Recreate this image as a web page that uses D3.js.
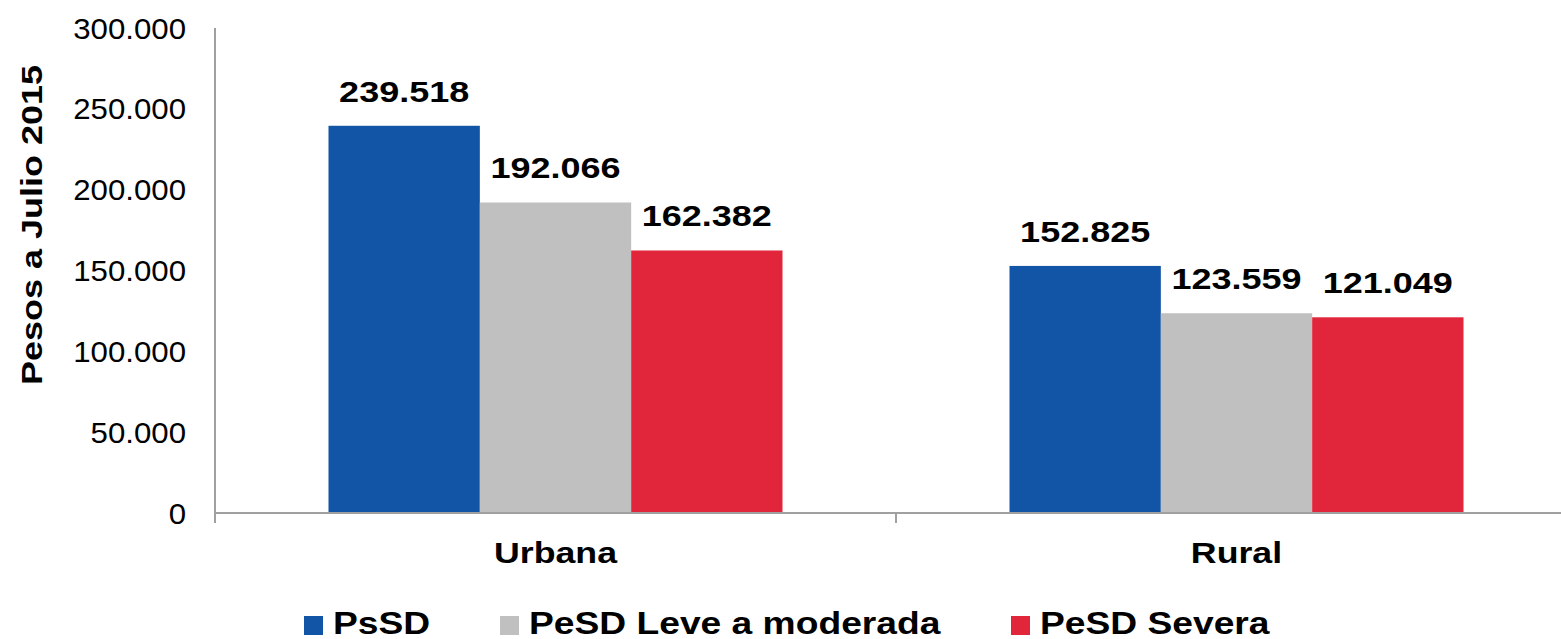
<!DOCTYPE html>
<html>
<head>
<meta charset="utf-8">
<script src="https://cdn.jsdelivr.net/npm/d3@7"></script>
<style>
  html, body { margin: 0; padding: 0; background: #fff; }
  svg { display: block; font-family: "Liberation Sans", Arial, sans-serif; }
</style>
</head>
<body>
<svg id="chart" width="1561" height="639"></svg>
<script>
// Categories, series and values
const categories = ["Urbana", "Rural"];
const series = ["PsSD", "PeSD Leve a moderada", "PeSD Severa"];
const valuesPsSD = [239518, 152825];
const valuesLeve = [192066, 123559];
const valuesSevera = [162382, 121049];
const seriesValues = [valuesPsSD, valuesLeve, valuesSevera];
const yTicks = [0, 50000, 100000, 150000, 200000, 250000, 300000];
const colors = ["#1254a5", "#c0c0c0", "#e1253a"];
const yTitle = "Pesos a Julio 2015";

// Spanish number formatting: thousands separated by "."
const locale = d3.formatLocale({ decimal: ",", thousands: ".", grouping: [3], currency: ["$", ""] });
const fmt = locale.format(",");

const svg = d3.select("#chart");

const plot = { left: 215, right: 1577, top: 28, bottom: 513 };

const x = d3.scaleBand()
  .domain(categories)
  .range([plot.left, plot.right])
  .paddingInner(1 / 3)
  .paddingOuter(1 / 6);

const xs = d3.scaleBand()
  .domain(series)
  .range([0, x.bandwidth()])
  .padding(0);

const y = d3.scaleLinear()
  .domain([0, 300000])
  .range([plot.bottom, plot.top]);

// Text helper with horizontal stretch
function stretchedText(g, px, py, txt, opts) {
  return g.append("text")
    .attr("transform", `translate(${px},${py})` + (opts.rotate ? ` rotate(${opts.rotate})` : "") + ` scale(${opts.sx || 1},1)`)
    .attr("text-anchor", opts.anchor || "middle")
    .style("font-size", (opts.size || 30) + "px")
    .style("font-weight", opts.bold ? "bold" : "normal")
    .attr("fill", "#000")
    .text(txt);
}

// Bars with value labels
const groups = svg.append("g").selectAll("g")
  .data(categories)
  .join("g")
  .attr("transform", d => `translate(${x(d)},0)`);

groups.each(function (cat, ci) {
  const g = d3.select(this);
  series.forEach((s, si) => {
    const v = seriesValues[si][ci];
    g.append("rect")
      .attr("x", xs(s))
      .attr("y", y(v))
      .attr("width", xs.bandwidth())
      .attr("height", y(0) - y(v))
      .attr("fill", colors[si]);
    stretchedText(g, xs(s) + xs.bandwidth() / 2, y(v) - 24, fmt(v), { bold: true, size: 30, sx: 1.2 });
  });
});

// Y axis line and tick labels
const axisColor = "#a0a0a0";
svg.append("line")
  .attr("x1", plot.left).attr("x2", plot.left)
  .attr("y1", plot.top).attr("y2", plot.bottom + 10)
  .attr("stroke", axisColor).attr("stroke-width", 2);

const yLabels = svg.append("g");
yTicks.forEach(t => {
  stretchedText(yLabels, 186, y(t) + 10.5, fmt(t), { anchor: "end", size: 30, sx: 1.04 });
});

// X axis line with category dividers
svg.append("line")
  .attr("x1", plot.left).attr("x2", plot.right)
  .attr("y1", plot.bottom).attr("y2", plot.bottom)
  .attr("stroke", axisColor).attr("stroke-width", 2);

const tickXs = [plot.left, (x(categories[0]) + x.bandwidth() / 2 + x(categories[1]) + x.bandwidth() / 2) / 2, plot.right];
tickXs.forEach(tx => {
  svg.append("line")
    .attr("x1", tx).attr("x2", tx)
    .attr("y1", plot.bottom).attr("y2", plot.bottom + 10)
    .attr("stroke", axisColor).attr("stroke-width", 2);
});

// Category labels
const catLabels = svg.append("g");
categories.forEach(c => {
  stretchedText(catLabels, x(c) + x.bandwidth() / 2, 563, c, { bold: true, size: 30, sx: 1.19 });
});

// Y axis title
stretchedText(svg, 42, 225, yTitle, { bold: true, size: 30, sx: 1.2, rotate: -90 });

// Legend
const legendX = [304, 500, 1011];
const legend = svg.append("g");
series.forEach((s, i) => {
  legend.append("rect")
    .attr("x", legendX[i]).attr("y", 616)
    .attr("width", 19).attr("height", 19)
    .attr("fill", colors[i]);
  stretchedText(legend, legendX[i] + 29, 634, s, { anchor: "start", bold: true, size: 31, sx: 1.2 });
});
</script>
</body>
</html>
